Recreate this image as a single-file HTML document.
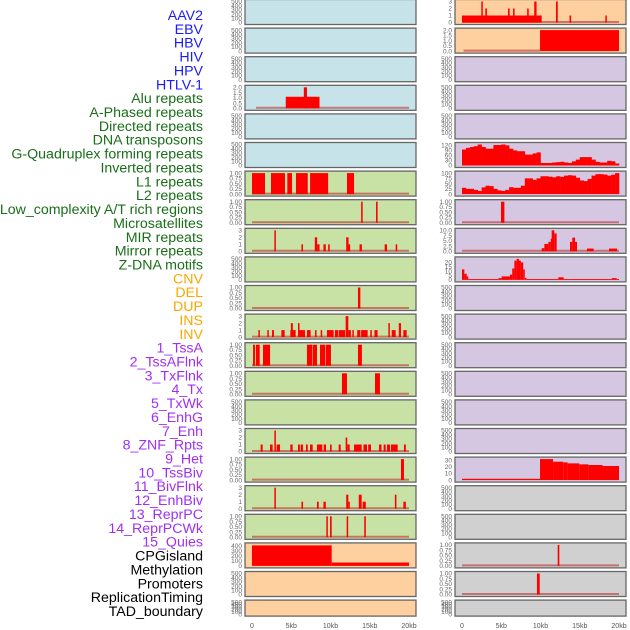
<!DOCTYPE html>
<html><head><meta charset="utf-8"><style>
html,body{margin:0;padding:0;background:#fff;}
svg{display:block;font-family:"Liberation Sans",sans-serif;}
</style></head><body>
<svg id="chart" width="630" height="630" viewBox="0 0 630 630" xmlns="http://www.w3.org/2000/svg">
<g id="labels"></g>
<g id="panels"></g>
<g id="xaxes"></g>
</svg>
<script>
const NS="http://www.w3.org/2000/svg";
// ---- labels ----
const labelNames=["AAV2","EBV","HBV","HIV","HPV","HTLV-1","Alu repeats","A-Phased repeats","Directed repeats","DNA transposons","G-Quadruplex forming repeats","Inverted repeats","L1 repeats","L2 repeats","Low_complexity A/T rich regions","Microsatellites","MIR repeats","Mirror repeats","Z-DNA motifs","CNV","DEL","DUP","INS","INV","1_TssA","2_TssAFlnk","3_TxFlnk","4_Tx","5_TxWk","6_EnhG","7_Enh","8_ZNF_Rpts","9_Het","10_TssBiv","11_BivFlnk","12_EnhBiv","13_ReprPC","14_ReprPCWk","15_Quies","CPGisland","Methylation","Promoters","ReplicationTiming","TAD_boundary"];
const labelGroups=[6,13,5,15,5];
const groupColors=["#1a1aff","#1a6e1a","#ffa500","#a030f0","#000000"];
const xTicks=[0,5,10,15,20];
const xTickLabels=["0","5kb","10kb","15kb","20kb"];
// ---- tick sets ----
const t500=[0,100,200,300,400,500];
const t1=[0,0.25,0.5,0.75,1];
const t3=[0,1,2,3];
const t2=[0,0.5,1,1.5,2];
// ---- left column data (segments: start kb, end kb, value) ----
const aluSegs=[[4.3,8.6,1.1],[6.6,7.0,2.0]];
const l1Segs=[[0,1.66,1],[2.42,4.2,1],[4.5,5.1,1],[5.6,7.1,1],[7.4,9.7,1],[12.1,13.0,1]];
const lowSegs=[[13.9,14.1,1],[15.8,16.0,1]];
const mirSegs=[[2.85,3.0,3],[6.3,6.5,1],[8.0,8.3,2],[8.3,8.6,1],[9.1,9.4,1],[9.7,9.9,1],[12.0,12.3,2],[12.3,12.5,1],[13.7,14.0,1],[16.9,17.2,1],[18.3,18.5,1]];
const zdnaSegs=[[13.5,13.8,1]];
const delSegs=[[0.81,1.0,1],[1.95,2.1,1],[2.55,2.8,1],[3.74,4.16,1],[4.88,5.56,1],[4.95,5.2,2],[5.86,6.03,2],[6.03,6.75,1],[7.0,7.47,1],[8.03,8.2,1],[8.75,8.9,1],[9.55,10.4,1],[10.57,11.0,1],[11.08,11.85,1],[11.93,12.27,3],[12.27,12.6,1],[12.78,12.95,1],[13.4,13.8,1],[13.9,14.73,1],[15.07,15.24,1],[15.6,16.0,1],[17.37,17.54,2],[17.8,18.3,1],[18.7,18.98,2],[19.28,19.7,1]];
const tssaSegs=[[0.13,0.38,1],[0.5,0.98,1],[1.4,2.3,1],[7.0,7.7,1],[7.77,8.28,1],[8.66,9.3,1],[9.38,10.06,1],[13.5,14.0,1]];
const txflnkSegs=[[11.46,12.1,1],[15.67,16.3,1]];
const txwkSegs=[[1.1,1.36,1],[2.29,2.63,1],[2.85,3.0,3],[3.14,3.57,1],[4.88,5.18,1],[5.86,6.1,1],[6.2,6.5,1],[6.88,7.1,1],[7.39,7.73,1],[8.28,8.96,1],[9.13,9.43,1],[9.94,10.15,1],[11.04,11.3,1],[11.93,12.14,2],[12.14,12.44,1],[13.0,13.97,1],[14.2,14.65,1],[14.8,15.16,1],[16.18,16.5,1],[16.77,17.03,1],[17.2,17.58,1],[17.7,18.56,1],[19.36,19.6,1]];
const enhSegs=[[18.98,19.36,1]];
const hetSegs=[[2.85,3.0,3],[6.3,6.5,1],[8.28,8.5,1],[9.1,9.4,1],[12.0,12.27,2],[12.27,12.44,1],[13.6,13.97,2],[14.1,14.5,1],[18.2,18.4,2],[19.28,19.6,1]];
const bivSegs=[[9.47,9.64,1],[9.94,10.15,1],[12.06,12.18,1],[14.3,14.5,1]];
const cpgSegs=[[0,10.15,410],[10.15,20,67]];
// ---- right column data ----
const rAav2Segs=[[0,10.15,1],[2.46,2.63,3],[2.97,3.18,2],[5.86,6.07,2],[6.5,6.7,2],[8.3,8.5,2],[9.2,9.5,3],[11.97,12.2,3],[13.7,13.9,1],[18.26,18.43,1]];
const rEbvSegs=[[9.94,20,2]];
const gquadBins=[95,105,110,115,125,110,100,100,122,122,125,120,100,90,85,85,65,65,72,78,15,15,15,18,20,22,18,15,25,35,50,50,50,35,22,18,18,28,25,12];
const invBins=[30,25,25,20,15,32,40,38,25,18,15,20,33,30,30,40,75,75,68,75,85,85,83,80,85,82,88,90,88,78,65,62,72,88,95,95,93,88,92,100];
const rL2Segs=[[4.97,5.4,1]];
const rLowSegs=[[10.15,10.49,1.5],[10.49,11.0,3.5],[11.0,11.3,4.5],[11.3,11.42,6],[11.42,11.76,10],[11.76,12.06,8.5],[13.76,14.05,4.5],[14.05,14.4,6.5],[14.4,14.65,4.5],[15.92,16.77,1.3],[18.73,19.75,1.3]];
const rMicroSegs=[[0,0.3,12],[0.3,0.6,7],[0.6,0.8,4],[0.8,4.63,1],[4.63,5.05,2],[5.05,6.1,4],[6.1,6.4,6],[6.4,6.67,13],[6.67,6.96,22],[6.96,7.26,24],[7.26,7.5,22],[7.5,7.8,20],[7.8,8.0,12],[8.0,8.24,2],[8.24,12.27,1],[12.27,12.95,3],[12.95,19.07,1],[19.07,19.7,2],[19.7,20,1]];
const rHetSegs=[[0,9.94,2],[9.94,11.6,32],[11.6,12.9,28],[12.9,13.46,27],[13.46,14.95,25.5],[14.95,16.1,24],[16.1,17.9,23],[17.9,20,21.5]];
const rCpgSegs=[[12.19,12.4,1]];
const rMethSegs=[[9.55,9.9,1]];

const BLUE="#c7e3ea",GREEN="#c8e1a5",PEACH="#fecf9f",PURP="#d5c6e2",GREY="#d0d0d0";
const panels=[
 [0,0,BLUE,t500,500,null,null,null,"aav2"],
 [0,1,BLUE,t500,500,null,null,null,"ebv"],
 [0,2,BLUE,t500,500,null,null,null,"hbv"],
 [0,3,BLUE,t2,2,aluSegs,null,[0.5,20],"alu"],
 [0,4,BLUE,t500,500,null,null,null,"hpv"],
 [0,5,BLUE,t500,500,null,null,null,"htlv"],
 [0,6,GREEN,t1,1,l1Segs,null,[0,20],"l1"],
 [0,7,GREEN,t1,1,lowSegs,null,[0,20],"low-complexity"],
 [0,8,GREEN,t3,3,mirSegs,null,[0,20],"mir"],
 [0,9,GREEN,t500,500,null,null,null,"mirror"],
 [0,10,GREEN,t1,1,zdnaSegs,null,[0,20],"zdna"],
 [0,11,GREEN,t3,3,delSegs,null,[0,20],"del"],
 [0,12,GREEN,t1,1,tssaSegs,null,[0,20],"tssa"],
 [0,13,GREEN,t1,1,txflnkSegs,null,[0,20],"txflnk"],
 [0,14,GREEN,t500,500,null,null,null,"tx"],
 [0,15,GREEN,t3,3,txwkSegs,null,[0,20],"txwk"],
 [0,16,GREEN,t1,1,enhSegs,null,[0,20],"enh"],
 [0,17,GREEN,t3,3,hetSegs,null,[0,20],"het"],
 [0,18,GREEN,t1,1,bivSegs,null,[0,20],"bivflnk"],
 [0,19,PEACH,[0,100,200,300,400],420,cpgSegs,null,null,"cpgisland"],
 [0,20,PEACH,t500,500,null,null,null,"promoters"],
 [0,21,PEACH,t500,500,null,null,null,"tad"],
 [1,0,PEACH,t3,3,rAav2Segs,null,[0,20],"r-aav2"],
 [1,1,PEACH,t2,2,rEbvSegs,null,[0.2,10],"r-ebv"],
 [1,2,PURP,t500,500,null,null,null,"r-hbv"],
 [1,3,PURP,t500,500,null,null,null,"r-hiv"],
 [1,4,PURP,t500,500,null,null,null,"r-hpv"],
 [1,5,PURP,[0,30,60,90,120],125,null,gquadBins,null,"r-gquad"],
 [1,6,PURP,[0,25,50,75,100],100,null,invBins,null,"r-inverted"],
 [1,7,PURP,t1,1,rL2Segs,null,[0,20],"r-l2"],
 [1,8,PURP,[0,2.5,5,7.5,10],10,rLowSegs,null,[0,20],"r-lowcomplex"],
 [1,9,PURP,[0,5,10,15,20],24,rMicroSegs,null,null,"r-micro"],
 [1,10,PURP,t500,500,null,null,null,"r-empty-10"],
 [1,11,PURP,t500,500,null,null,null,"r-empty-11"],
 [1,12,PURP,t500,500,null,null,null,"r-empty-12"],
 [1,13,PURP,t500,500,null,null,null,"r-empty-13"],
 [1,14,PURP,t500,500,null,null,null,"r-empty-14"],
 [1,15,PURP,t500,500,null,null,null,"r-empty-15"],
 [1,16,PURP,[0,10,20,30],32,rHetSegs,null,null,"r-het"],
 [1,17,GREY,t500,500,null,null,null,"r-empty-17"],
 [1,18,GREY,t500,500,null,null,null,"r-empty-18"],
 [1,19,GREY,t1,1,rCpgSegs,null,[0,20],"r-cpg"],
 [1,20,GREY,t1,1,rMethSegs,null,[0,20],"r-meth"],
 [1,21,GREY,t500,500,null,null,null,"r-tad"]
];
function mk(tag,attrs,parent){const e=document.createElementNS(NS,tag);for(const k in attrs)e.setAttribute(k,attrs[k]);parent.appendChild(e);return e;}
const lg=document.getElementById('labels');
let gi=0,cnt=0;
labelNames.forEach((n,i)=>{
  while(cnt>=labelGroups[gi]){cnt=0;gi++;}
  cnt++;
  const t=mk('text',{x:203,y:20+i*13.86,'text-anchor':'end','font-size':'14.2',fill:groupColors[gi]},lg);
  t.textContent=n;
  
  
});
const colX=[245,455],W=171;
function rowTop(r){return r*28.6-0.5;}
function xScale(col,kb){return colX[col]+7+kb/20*157;}
const pg=document.getElementById('panels');
panels.forEach(p=>{
  const [col,row,bg,ticks,max,segs,bins,base,name]=p;
  const top=rowTop(row),h=row===21?16:25;
  const g=mk('g',{},pg);
  
  
  mk('rect',{x:colX[col],y:top,width:W,height:h,fill:bg,stroke:'#666','stroke-width':1.3},g);
  const bot=top+h-2,ti=top+2;
  const yS=v=>bot-v/max*(bot-ti);
  ticks.forEach(tv=>{
    const tt=mk('text',{x:colX[col]-3,y:yS(tv)+2.2,'text-anchor':'end','font-size':'6.5',fill:'#666'},g);
    tt.textContent=(ticks===t1)?tv.toFixed(2):(ticks===t2||ticks[1]===2.5)?tv.toFixed(1):String(tv);
    
    
  });
  if(base){
    const bl=mk('line',{x1:xScale(col,base[0]),x2:xScale(col,base[1]),y1:bot-0.5,y2:bot-0.5,stroke:'#c04848','stroke-width':2,'stroke-opacity':0.7},g);
    
    
  }
  if(segs){segs.forEach(s=>{
    const x1=xScale(col,s[0]),x2=xScale(col,s[1]);
    const r=mk('rect',{x:x1,y:yS(s[2]),width:Math.max(1.5,x2-x1),height:bot-yS(s[2]),fill:'#ff0000'},g);
    
    
  });}
  if(bins){bins.forEach((v,i)=>{
    const x1=xScale(col,i*0.5),x2=xScale(col,(i+1)*0.5);
    const r=mk('rect',{x:x1,y:yS(v),width:x2-x1+0.3,height:bot-yS(v),fill:'#ff0000'},g);
    
    
  });}
});
const xg=document.getElementById('xaxes');
[0,1].forEach(col=>{xTicks.forEach((k,i)=>{
  const t=mk('text',{x:xScale(col,k),y:628,'text-anchor':'middle','font-size':'7',fill:'#555'},xg);
  t.textContent=xTickLabels[i];
  
  
});});
</script>
</body></html>
